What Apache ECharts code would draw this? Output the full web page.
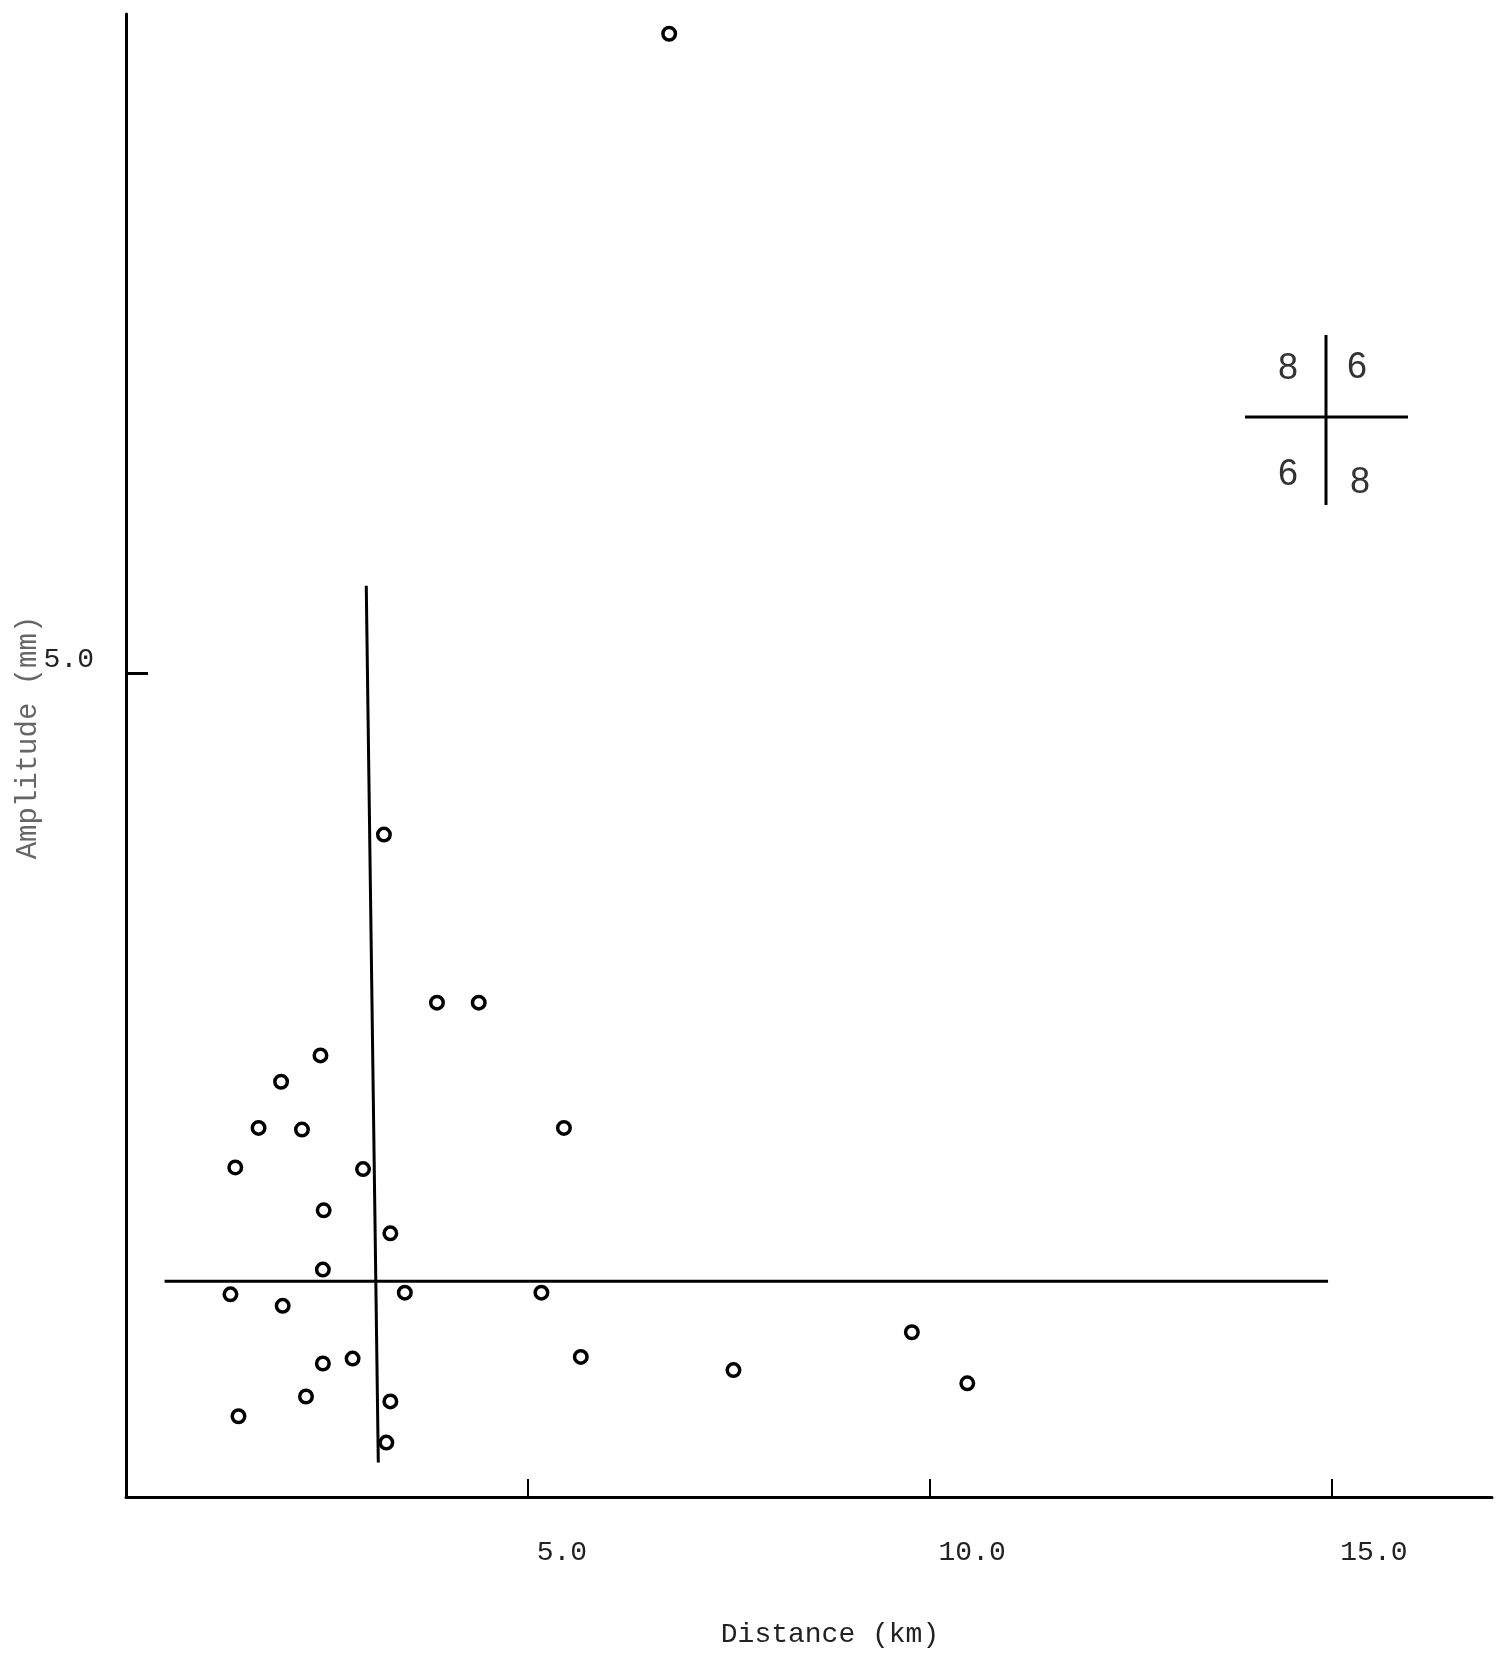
<!DOCTYPE html>
<html>
<head>
<meta charset="utf-8">
<script src="https://cdn.jsdelivr.net/npm/echarts@6/dist/echarts.min.js"></script>
<style>
html,body{margin:0;padding:0;background:#fff;}
#chart{width:1507px;height:1662px;}
</style>
</head>
<body>
<div id="chart"></div>
<script>
// Data: distance (km), amplitude (mm)
const distance = [6.76, 3.21, 3.87, 4.39, 2.42, 1.93, 1.65, 2.19, 5.45, 1.36, 2.95, 2.46, 3.29, 2.45,
                  1.30, 3.47, 5.17, 1.95, 9.78, 2.45, 2.82, 5.66, 7.56, 10.47, 2.24, 3.29, 1.40, 3.24];
const amplitude = [8.88, 4.02, 3.00, 3.00, 2.68, 2.52, 2.24, 2.23, 2.24, 2.00, 1.99, 1.74, 1.60, 1.38,
                   1.23, 1.24, 1.24, 1.16, 1.00, 0.81, 0.84, 0.85, 0.77, 0.69, 0.61, 0.58, 0.49, 0.33];
// Median dividing lines (quadrant test)
const medianV = [[2.99, 5.53], [3.14, 0.21]];
const medianH = [[0.48, 1.31], [14.96, 1.31]];
// Quadrant counts: upper-left, upper-right, lower-left, lower-right
const quadrantCounts = [8, 6, 6, 8];
const xTicks = [5, 10, 15];
const yTicks = [5];

const points = distance.map((d, i) => [d, amplitude[i]]);
const mono = 'Liberation Mono';

const chart = echarts.init(document.getElementById('chart'), null, {renderer: 'canvas'});
chart.setOption({
  animation: false,
  backgroundColor: '#ffffff',
  grid: {left: 126, right: 15, top: 14, bottom: 165, containLabel: false, outerBoundsMode: 'none'},
  xAxis: {
    type: 'value', min: 0, max: 17, interval: 5,
    name: 'Distance (km)', nameLocation: 'middle', nameGap: 124, nameMoveOverlap: false,
    nameTextStyle: {fontFamily: mono, fontSize: 28, color: '#222', padding: [0, 0, 0, 42]},
    axisLine: {show: true, lineStyle: {color: '#000', width: 3}},
    axisTick: {show: true, inside: true, length: 18, customValues: xTicks, lineStyle: {color: '#000', width: 2}},
    axisLabel: {
      fontFamily: mono, fontSize: 28, color: '#222', margin: 42, align: 'left',
      customValues: xTicks, padding: [0, 0, 0, 9],
      formatter: v => v.toFixed(1)
    },
    splitLine: {show: false}
  },
  yAxis: {
    type: 'value', min: 0, max: 9, interval: 5,
    name: 'Amplitude (mm)', nameLocation: 'middle', nameGap: 83, nameRotate: 90, nameMoveOverlap: false,
    nameTextStyle: {fontFamily: mono, fontSize: 29, color: '#666', padding: [0, 0, 0, 36]},
    axisLine: {show: true, lineStyle: {color: '#000', width: 3}},
    axisTick: {show: true, inside: true, length: 22, customValues: yTicks, lineStyle: {color: '#000', width: 3}},
    axisLabel: {
      fontFamily: mono, fontSize: 28, color: '#222', margin: 32, verticalAlign: 'bottom',
      customValues: yTicks,
      formatter: v => v.toFixed(1)
    },
    splitLine: {show: false}
  },
  series: [
    {type: 'line', data: medianV, symbol: 'none', lineStyle: {color: '#000', width: 3}, z: 2},
    {type: 'line', data: medianH, symbol: 'none', lineStyle: {color: '#000', width: 3}, z: 2},
    {
      type: 'scatter', data: points, symbol: 'circle', symbolSize: 12.5,
      itemStyle: {color: '#fff', borderColor: '#000', borderWidth: 3.5, opacity: 1}, z: 3
    }
  ],
  graphic: [
    {type: 'line', shape: {x1: 1326, y1: 335, x2: 1326, y2: 505}, style: {stroke: '#000', lineWidth: 3}},
    {type: 'line', shape: {x1: 1245, y1: 417, x2: 1408, y2: 417}, style: {stroke: '#000', lineWidth: 3}},
    {type: 'text', x: 1288, y: 369, style: {text: String(quadrantCounts[0]), font: '36px "Liberation Sans"', fill: '#333', align: 'center', verticalAlign: 'middle'}},
    {type: 'text', x: 1357, y: 368, style: {text: String(quadrantCounts[1]), font: '36px "Liberation Sans"', fill: '#333', align: 'center', verticalAlign: 'middle'}},
    {type: 'text', x: 1288, y: 475, style: {text: String(quadrantCounts[2]), font: '36px "Liberation Sans"', fill: '#333', align: 'center', verticalAlign: 'middle'}},
    {type: 'text', x: 1360, y: 483, style: {text: String(quadrantCounts[3]), font: '36px "Liberation Sans"', fill: '#333', align: 'center', verticalAlign: 'middle'}}
  ]
});
</script>
</body>
</html>
